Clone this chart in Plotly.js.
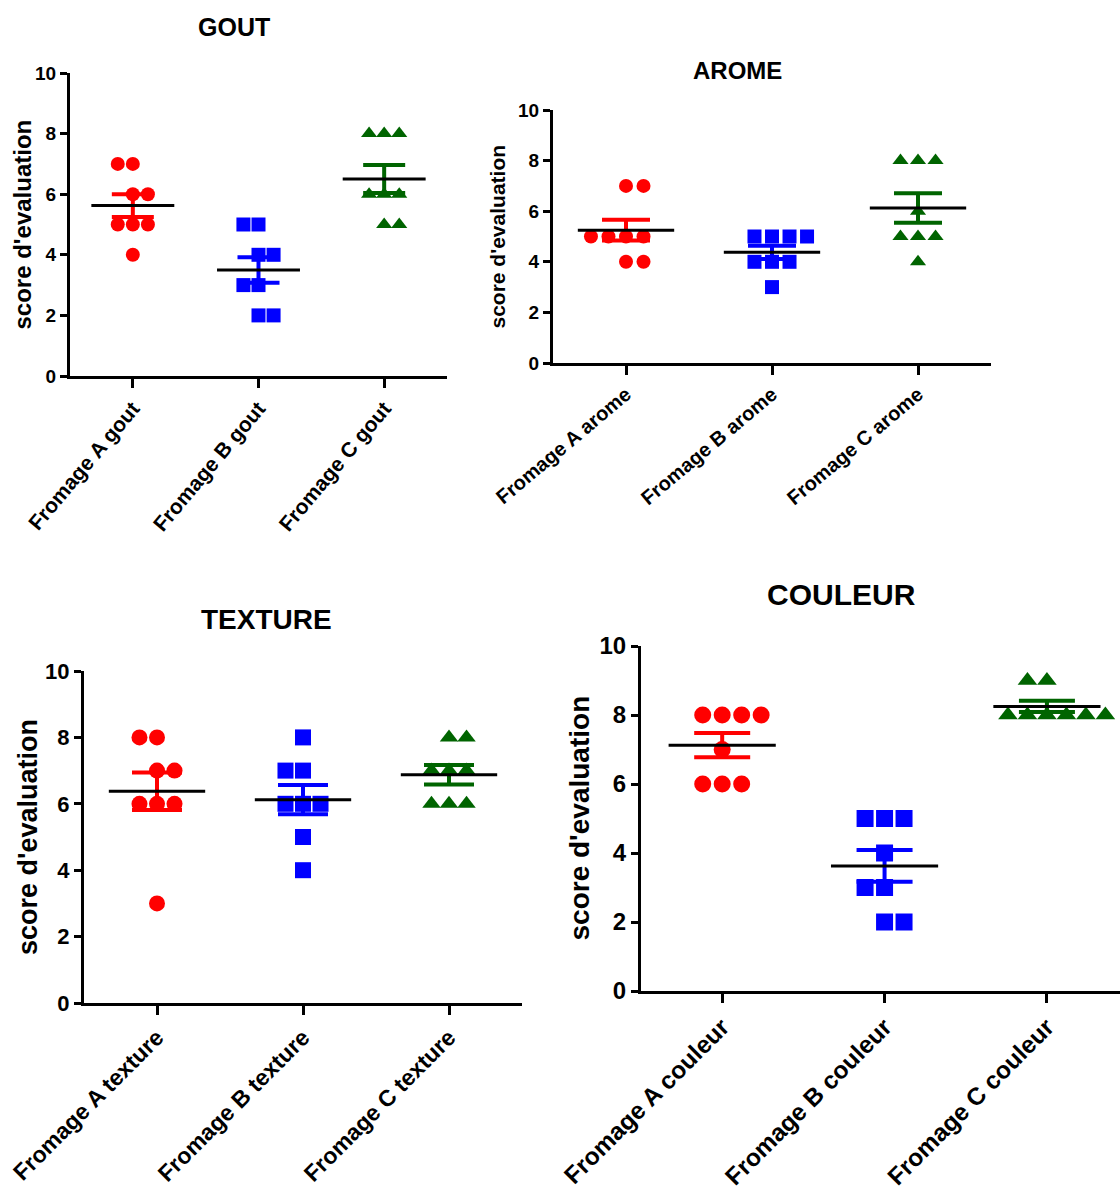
<!DOCTYPE html>
<html>
<head>
<meta charset="utf-8">
<script src="https://cdn.plot.ly/plotly-3.0.1.min.js"></script>
<style>html,body{margin:0;padding:0;background:#fff;}#chart{width:1120px;height:1199px;}</style>
</head>
<body>
<div id="chart"></div>
<script>
// ---- Data ----
const goutLabels = ["Fromage A gout", "Fromage B gout", "Fromage C gout"];
const goutA = [7, 7, 6, 6, 5, 5, 5, 4];
const goutB = [5, 5, 4, 4, 3, 3, 2, 2];
const goutC = [8, 8, 8, 6, 6, 6, 5, 5];

const aromeLabels = ["Fromage A arome", "Fromage B arome", "Fromage C arome"];
const aromeA = [7, 7, 5, 5, 5, 5, 4, 4];
const aromeB = [5, 5, 5, 5, 4, 4, 4, 3];
const aromeC = [8, 8, 8, 6, 5, 5, 5, 4];

const textureLabels = ["Fromage A texture", "Fromage B texture", "Fromage C texture"];
const textureA = [8, 8, 7, 7, 6, 6, 6, 3];
const textureB = [8, 7, 7, 6, 6, 6, 5, 4];
const textureC = [8, 8, 7, 7, 7, 6, 6, 6];

const couleurLabels = ["Fromage A couleur", "Fromage B couleur", "Fromage C couleur"];
const couleurA = [8, 8, 8, 8, 7, 6, 6, 6];
const couleurB = [5, 5, 5, 4, 3, 3, 2, 2];
const couleurC = [9, 9, 8, 8, 8, 8, 8, 8];

const panelTitles = ["GOUT", "AROME", "TEXTURE", "COULEUR"];
const yTitle = "score d'evaluation";
const yTicks = [0, 2, 4, 6, 8, 10];

// ---- Styling ----
const colors = ["#ff0000", "#0000ff", "#006400"];
const symbols = ["circle", "square", "triangle-up"];
const W = 1120, H = 1199;
const FONT = "Liberation Sans, Arial, sans-serif";

// panel geometry in pixels
const panels = [
  {labels: goutLabels, groups: [goutA, goutB, goutC], x0: 70, x1: 447, yTop: 73, yBot: 376, xr: [-0.5, 2.5],
   msize: 14, capw: 21, tickfs: 19, xfs: 21, xangle: -50, ytfs: 24, ytx: 22,
   title: {x: 234, y: 27, size: 25}},
  {labels: aromeLabels, groups: [aromeA, aromeB, aromeC], x0: 553, x1: 991, yTop: 110, yBot: 363, xr: [-0.5, 2.5],
   msize: 14, capw: 24, tickfs: 19, xfs: 20, xangle: -40, ytfs: 21, ytx: 497,
   title: {x: 737, y: 70, size: 24}},
  {labels: textureLabels, groups: [textureA, textureB, textureC], x0: 84, x1: 522, yTop: 671, yBot: 1003, xr: [-0.5, 2.5],
   msize: 16, capw: 25, tickfs: 22, xfs: 23, xangle: -45, ytfs: 27, ytx: 28,
   title: {x: 266, y: 619, size: 28}},
  {labels: couleurLabels, groups: [couleurA, couleurB, couleurC], x0: 641, x1: 1120, yTop: 646, yBot: 991, xr: [-0.5, 2.45],
   msize: 17, capw: 28, tickfs: 24, xfs: 24.5, xangle: -45, ytfs: 28, ytx: 579,
   title: {x: 841, y: 594, size: 30}}
];

const STEP = 0.12; // horizontal spacing of points (category units)

function arrange(values, center) {
  const uniq = [...new Set(values)].sort((a, b) => a - b);
  const xs = [], ys = [];
  uniq.forEach((v, idx) => {
    const k = values.filter(x => x === v).length;
    let start = -(k - 1) / 2;
    if (k % 2 === 0) start += (idx % 2 === 0 ? 0.5 : -0.5);
    for (let j = 0; j < k; j++) { xs.push(center + (start + j) * STEP); ys.push(v); }
  });
  return {xs, ys};
}
function mean(a) { return a.reduce((s, v) => s + v, 0) / a.length; }
function sem(a) {
  const m = mean(a);
  const v = a.reduce((s, x) => s + (x - m) * (x - m), 0) / (a.length - 1);
  return Math.sqrt(v / a.length);
}

const traces = [];
const layout = {
  width: W, height: H, margin: {l: 0, r: 0, t: 0, b: 0},
  paper_bgcolor: "#fff", plot_bgcolor: "rgba(0,0,0,0)",
  showlegend: false, annotations: [],
  font: {family: FONT, color: "#000"}
};

panels.forEach((p, pi) => {
  const n = pi + 1;
  const xa = "x" + (n === 1 ? "" : n), ya = "y" + (n === 1 ? "" : n);
  const xk = "xaxis" + (n === 1 ? "" : n), yk = "yaxis" + (n === 1 ? "" : n);
  // points
  p.groups.forEach((g, gi) => {
    const a = arrange(g, gi);
    traces.push({type: "scatter", mode: "markers", x: a.xs, y: a.ys, xaxis: xa, yaxis: ya,
      cliponaxis: false, hoverinfo: "skip",
      marker: {symbol: symbols[gi], color: colors[gi], size: p.msize, line: {width: 0}}});
  });
  // SEM error bars
  p.groups.forEach((g, gi) => {
    traces.push({type: "scatter", mode: "markers", x: [gi], y: [mean(g)], xaxis: xa, yaxis: ya,
      cliponaxis: false, hoverinfo: "skip",
      marker: {size: 1, color: "rgba(0,0,0,0)"},
      error_y: {type: "data", array: [sem(g)], visible: true, color: colors[gi], thickness: 4, width: p.capw}});
  });
  // mean lines
  p.groups.forEach((g, gi) => {
    const m = mean(g);
    traces.push({type: "scatter", mode: "lines", x: [gi - 0.33, gi + 0.33], y: [m, m], xaxis: xa, yaxis: ya,
      cliponaxis: false, hoverinfo: "skip", line: {color: "#000", width: 3}});
  });

  layout[xk] = {
    domain: [p.x0 / W, p.x1 / W], anchor: ya, range: p.xr, fixedrange: true,
    showgrid: false, zeroline: false, showline: true, linecolor: "#000", linewidth: 3,
    ticks: "outside", ticklen: 9, tickwidth: 3, tickcolor: "#000",
    tickmode: "array", tickvals: [0, 1, 2], ticktext: p.labels, tickangle: p.xangle,
    tickfont: {family: FONT, size: p.xfs, weight: 700, color: "#000"}
  };
  layout[yk] = {
    domain: [1 - p.yBot / H, 1 - p.yTop / H], anchor: xa, range: [0, 10], fixedrange: true,
    showgrid: false, zeroline: false, showline: true, linecolor: "#000", linewidth: 3,
    ticks: "outside", ticklen: 7, tickwidth: 3, tickcolor: "#000",
    tickmode: "array", tickvals: yTicks, ticktext: yTicks.map(String),
    tickfont: {family: FONT, size: p.tickfs, weight: 700, color: "#000"}
  };
  layout.annotations.push({
    text: panelTitles[pi], xref: "paper", yref: "paper", x: p.title.x / W, y: 1 - p.title.y / H,
    xanchor: "center", yanchor: "middle", showarrow: false,
    font: {family: FONT, size: p.title.size, weight: 700, color: "#000"}
  });
  layout.annotations.push({
    text: yTitle, xref: "paper", yref: "paper", x: p.ytx / W, y: 1 - ((p.yTop + p.yBot) / 2) / H,
    xanchor: "center", yanchor: "middle", showarrow: false, textangle: -90,
    font: {family: FONT, size: p.ytfs, weight: 700, color: "#000"}
  });
});

Plotly.newPlot("chart", traces, layout, {staticPlot: true, displayModeBar: false});
</script>
</body>
</html>
